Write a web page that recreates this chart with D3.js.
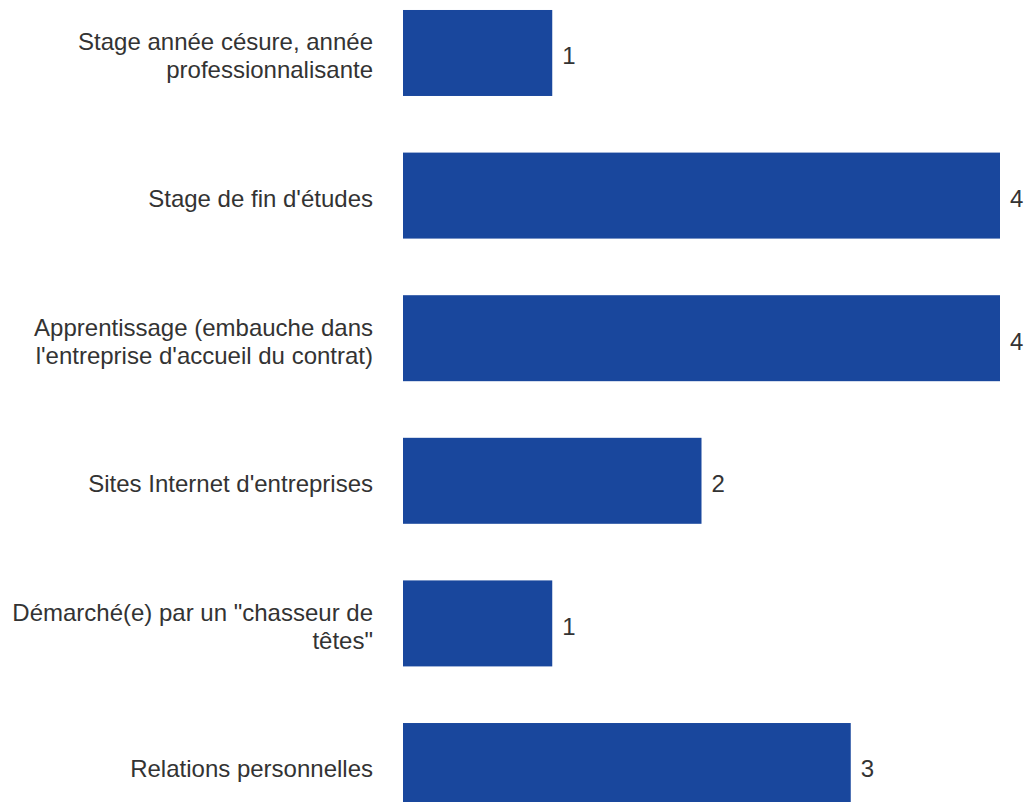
<!DOCTYPE html>
<html>
<head>
<meta charset="utf-8">
<script src="https://cdn.jsdelivr.net/npm/d3@7"></script>
<style>
  html, body { margin: 0; padding: 0; background: #fff; overflow: hidden; }
  svg { display: block; }
</style>
</head>
<body>
<div id="chart"></div>
<script>
// categories (each entry = lines of the label)
const categories = [
    ['Stage année césure, année', 'professionnalisante'],
    ["Stage de fin d'études"],
    ['Apprentissage (embauche dans', "l'entreprise d'accueil du contrat)"],
    ["Sites Internet d'entreprises"],
    ['Démarché(e) par un "chasseur de', 'têtes"'],
    ['Relations personnelles']
];
const values = [1, 4, 4, 2, 1, 3];
const xTicks = [0, 1, 2, 3, 4];

const width = 1033, height = 802;
const left = 403, right = 1000;
const font = '"Liberation Sans", Arial, sans-serif';

const svg = d3.select('#chart').append('svg')
    .attr('width', width)
    .attr('height', height);

const keys = categories.map((c, i) => i);

const x = d3.scaleLinear()
    .domain([0, d3.max(xTicks)])
    .range([left, right]);

const y = d3.scaleBand()
    .domain(keys)
    .range([0, 819])
    .paddingInner(0.397)
    .paddingOuter(0.07);

// barres
svg.selectAll('.bar')
    .data(values)
    .enter().append('rect')
    .attr('class', 'bar')
    .attr('x', x(0))
    .attr('y', (d, i) => y(i))
    .attr('width', d => x(d) - x(0))
    .attr('height', y.bandwidth())
    .attr('fill', '#19479d');

// valeurs
svg.selectAll('.val')
    .data(values)
    .enter().append('text')
    .attr('class', 'val')
    .attr('x', d => x(d) + 10)
    .attr('y', (d, i) => y(i) + y.bandwidth() / 2 + 3)
    .attr('dy', '0.35em')
    .attr('font-family', font)
    .attr('font-size', 24)
    .attr('fill', '#333')
    .text(d => d);

// étiquettes des catégories
const lineH = 28;
const labels = svg.selectAll('.lbl')
    .data(categories)
    .enter().append('text')
    .attr('class', 'lbl')
    .attr('text-anchor', 'end')
    .attr('font-family', font)
    .attr('font-size', 24)
    .attr('fill', '#333');

labels.each(function (lines, i) {
    const cy = y(i) + y.bandwidth() / 2;
    const y0 = cy - (lines.length - 1) * lineH / 2 + 3;
    d3.select(this).selectAll('tspan')
        .data(lines)
        .enter().append('tspan')
        .attr('x', 373)
        .attr('y', (d, j) => y0 + j * lineH)
        .attr('dy', '0.35em')
        .text(d => d);
});
</script>
</body>
</html>
